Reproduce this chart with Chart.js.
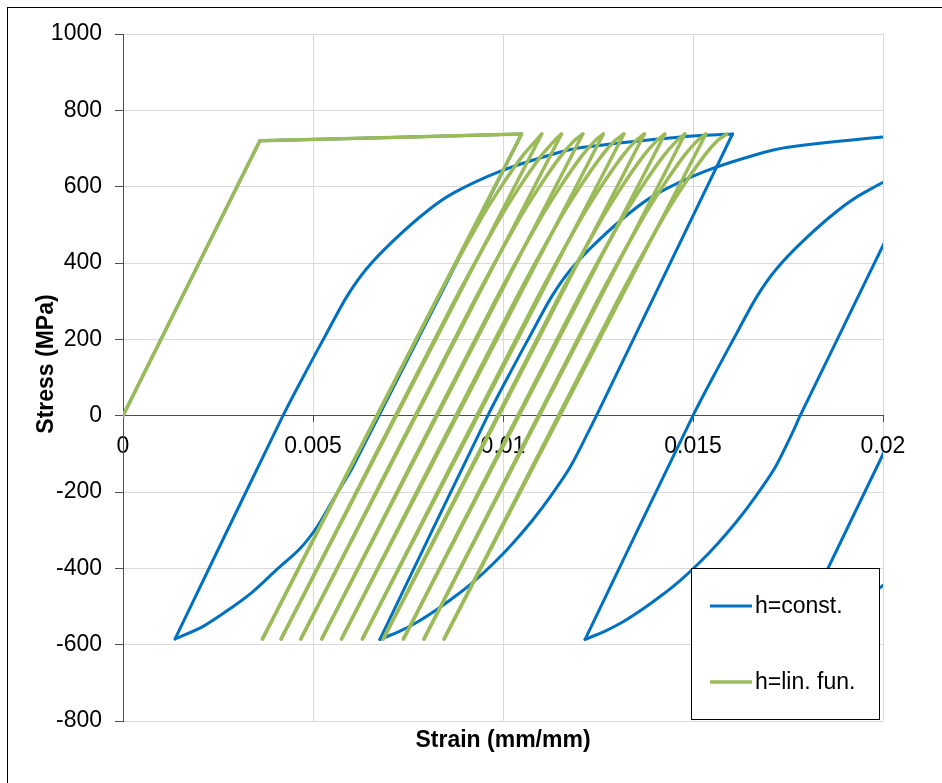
<!DOCTYPE html>
<html lang="en">
<head>
<meta charset="UTF-8">
<title>Stress - Strain</title>
<script src="https://cdn.jsdelivr.net/npm/chart.js@4"></script>
<style>
    html, body { margin: 0; padding: 0; background: #fff; overflow: hidden; }
    .frame { position: relative; width: 942px; height: 783px; }
    /* outer chart border, only top and left are in view */
    .frame::before {
        content: '';
        position: absolute;
        left: 7px; top: 7px; right: -20px; bottom: -20px;
        border-left: 1px solid #000;
        border-top: 1px solid #000;
    }
    canvas { position: relative; }
</style>
</head>
<body>
<div class="frame">
    <canvas id="chart"></canvas>
</div>
<script>
// axes
const xTicks = [0, 0.005, 0.01, 0.015, 0.02];
const yTicks = [-800, -600, -400, -200, 0, 200, 400, 600, 800, 1000];
const xTitle = 'Strain (mm/mm)';
const yTitle = 'Stress (MPa)';

// h=const. (blue) - points past 0.02 are the turning points outside the plot
const blueStrain = [
    0, 0.0036, 0.01049, 0.00605, 0.00553, 0.00511, 0.00466, 0.00405, 0.00342, 0.00290, 0.00211, 0.00137,
    0.00421, 0.00492, 0.00536, 0.00589, 0.00641, 0.00711, 0.00799, 0.00869, 0.00992, 0.01124, 0.01211, 0.01474, 0.01604,
    0.01246, 0.01226, 0.01176, 0.01126, 0.01076, 0.01026, 0.00976, 0.00926, 0.00876, 0.00826, 0.00776, 0.00726, 0.00676,
    0.00960, 0.01031, 0.01075, 0.01128, 0.01180, 0.01250, 0.01338, 0.01408, 0.01531, 0.01663, 0.01750, 0.02013, 0.02143,
    0.01782, 0.01764, 0.01716, 0.01666, 0.01616, 0.01566, 0.01516, 0.01466, 0.01416, 0.01366, 0.01316, 0.01266, 0.01216,
    0.01500, 0.01571, 0.01615, 0.01668, 0.01720, 0.01790, 0.01878, 0.01948, 0.02071, 0.02683,
    0.02335, 0.02265, 0.02165, 0.02065, 0.02015, 0.01965, 0.01915, 0.01865, 0.01815, 0.01765,
    0.02049
];
const blueStress = [
    0, 720, 738, -134, -220, -291, -348, -403, -461, -500, -552, -585,
    0, 135, 216, 312, 385, 458, 535, 583, 640, 683, 703, 731, 738,
    0, -40, -136, -210, -276, -334, -386, -432, -472, -508, -540, -566, -586,
    0, 135, 216, 312, 385, 458, 535, 583, 640, 683, 703, 731, 738,
    0, -40, -136, -210, -276, -334, -386, -432, -472, -508, -540, -566, -586,
    0, 135, 216, 312, 385, 458, 535, 583, 640, 738,
    0, -136, -276, -386, -432, -472, -508, -540, -566, -586,
    0
];

// h=lin. fun. (green)
const greenStrain = [
    0, 0.0036, 0.01049,
    0.00367, 0.00823, 0.00933, 0.00995, 0.01051, 0.01086, 0.01102,
    0.00416, 0.00872, 0.00982, 0.01044, 0.01100, 0.01135, 0.01154,
    0.00468, 0.00924, 0.01034, 0.01096, 0.01152, 0.01187, 0.01210,
    0.00523, 0.00979, 0.01089, 0.01151, 0.01207, 0.01242, 0.01264,
    0.00575, 0.01031, 0.01141, 0.01203, 0.01259, 0.01294, 0.01318,
    0.00630, 0.01086, 0.01196, 0.01258, 0.01314, 0.01349, 0.01372,
    0.00685, 0.01141, 0.01251, 0.01313, 0.01369, 0.01404, 0.01426,
    0.00738, 0.01194, 0.01304, 0.01366, 0.01422, 0.01457, 0.01479,
    0.00792, 0.01248, 0.01358, 0.01420, 0.01476, 0.01511, 0.01534,
    0.00845, 0.01301, 0.01411, 0.01473, 0.01529, 0.01564, 0.01589
];
const greenStress = [
    0, 720, 738,
    -585, 300, 500, 600, 680, 720, 738,
    -585, 300, 500, 600, 680, 720, 738,
    -585, 300, 500, 600, 680, 720, 738,
    -585, 300, 500, 600, 680, 720, 738,
    -585, 300, 500, 600, 680, 720, 738,
    -585, 300, 500, 600, 680, 720, 738,
    -585, 300, 500, 600, 680, 720, 738,
    -585, 300, 500, 600, 680, 720, 738,
    -585, 300, 500, 600, 680, 720, 738,
    -585, 300, 500, 600, 680, 720, 738
];

const series = [
    { label: 'h=const.', color: '#0070C0', width: 3, strain: blueStrain, stress: blueStress, order: 2 },
    { label: 'h=lin. fun.', color: '#9BBB59', width: 3.5, strain: greenStrain, stress: greenStress, order: 1 }
];

// cut a path at load reversals and at the yield kink, so each branch
// can be smoothed while the corners stay sharp
function splitBranches(xs, ys) {
    const branches = [];
    let cur = [{ x: xs[0], y: ys[0] }];
    for (let i = 1; i < xs.length; i++) {
        cur.push({ x: xs[i], y: ys[i] });
        if (i < xs.length - 1) {
            const d1 = ys[i] - ys[i - 1], d2 = ys[i + 1] - ys[i];
            const s1 = Math.abs(d1 / (xs[i] - xs[i - 1]));
            const s2 = Math.abs(d2 / (xs[i + 1] - xs[i]));
            if (d1 * d2 < 0 || s1 / s2 > 10 || s2 / s1 > 10) {
                branches.push(cur);
                cur = [{ x: xs[i], y: ys[i] }];
            }
        }
    }
    branches.push(cur);
    return branches;
}

const datasets = [];
series.forEach(s => {
    splitBranches(s.strain, s.stress).forEach(pts => {
        datasets.push({
            label: s.label,
            data: pts,
            showLine: true,
            borderColor: s.color,
            borderWidth: s.width,
            tension: 0.3,
            pointRadius: 0,
            pointHoverRadius: 0,
            borderJoinStyle: 'round',
            borderCapStyle: 'round',
            clip: 0,
            order: s.order
        });
    });
});

const FONT = "'Liberation Sans', Arial, sans-serif";
Chart.defaults.font.family = FONT;
Chart.defaults.font.size = 23;
Chart.defaults.color = '#000';

// axis titles drawn by hand so they sit where Excel put them
const axisTitles = {
    id: 'axisTitles',
    afterDraw(chart) {
        const { ctx, chartArea } = chart;
        ctx.save();
        ctx.font = 'bold 23px ' + FONT;
        ctx.fillStyle = '#000';
        ctx.textAlign = 'center';
        ctx.textBaseline = 'alphabetic';
        ctx.fillText(xTitle, (chartArea.left + chartArea.right) / 2, chartArea.bottom + 26);
        ctx.translate(53, 364);
        ctx.rotate(-Math.PI / 2);
        ctx.fillText(yTitle, 0, 0);
        ctx.restore();
    }
};

// boxed legend inside the plot, lower right
const boxLegend = {
    id: 'boxLegend',
    afterDatasetsDraw(chart) {
        const { ctx, chartArea } = chart;
        const left = chartArea.right - 192;
        const top = chartArea.bottom - 153;
        ctx.save();
        ctx.fillStyle = '#fff';
        ctx.fillRect(left, top, 188, 151);
        ctx.strokeStyle = '#000';
        ctx.lineWidth = 1;
        ctx.strokeRect(left + 0.5, top + 0.5, 188, 151);
        ctx.font = '23px ' + FONT;
        ctx.textBaseline = 'alphabetic';
        ctx.textAlign = 'left';
        series.forEach((s, i) => {
            const y = top + 38 + i * 76;
            ctx.strokeStyle = s.color;
            ctx.lineWidth = s.width;
            ctx.beginPath();
            ctx.moveTo(left + 19, y);
            ctx.lineTo(left + 61, y);
            ctx.stroke();
            ctx.fillStyle = '#000';
            ctx.fillText(s.label, left + 64, y + 7);
        });
        ctx.restore();
    }
};

new Chart(document.getElementById('chart'), {
    type: 'scatter',
    data: { datasets: datasets },
    options: {
        responsive: true,
        maintainAspectRatio: false,
        animation: false,
        layout: { padding: { left: 0, top: 34, right: 59, bottom: 62 } },
        elements: { line: { capBezierPoints: false } },
        plugins: {
            legend: { display: false },
            tooltip: { enabled: false }
        },
        scales: {
            x: {
                type: 'linear',
                position: { y: 0 },
                min: xTicks[0],
                max: xTicks[xTicks.length - 1],
                ticks: {
                    stepSize: xTicks[1] - xTicks[0],
                    padding: 11,
                    maxRotation: 0,
                    autoSkip: false,
                    callback: v => String(+v.toFixed(3))
                },
                grid: { color: '#d9d9d9', tickColor: '#4d4d4d', tickLength: 6 },
                border: { color: '#4d4d4d' }
            },
            y: {
                min: yTicks[0],
                max: yTicks[yTicks.length - 1],
                ticks: {
                    stepSize: yTicks[1] - yTicks[0],
                    padding: 13,
                    callback: v => String(v)
                },
                grid: { color: '#d9d9d9', tickColor: '#4d4d4d', tickLength: 8 },
                border: { color: '#4d4d4d' },
                afterFit: scale => { scale.width = 123; }
            }
        }
    },
    plugins: [boxLegend, axisTitles]
});
</script>
</body>
</html>
